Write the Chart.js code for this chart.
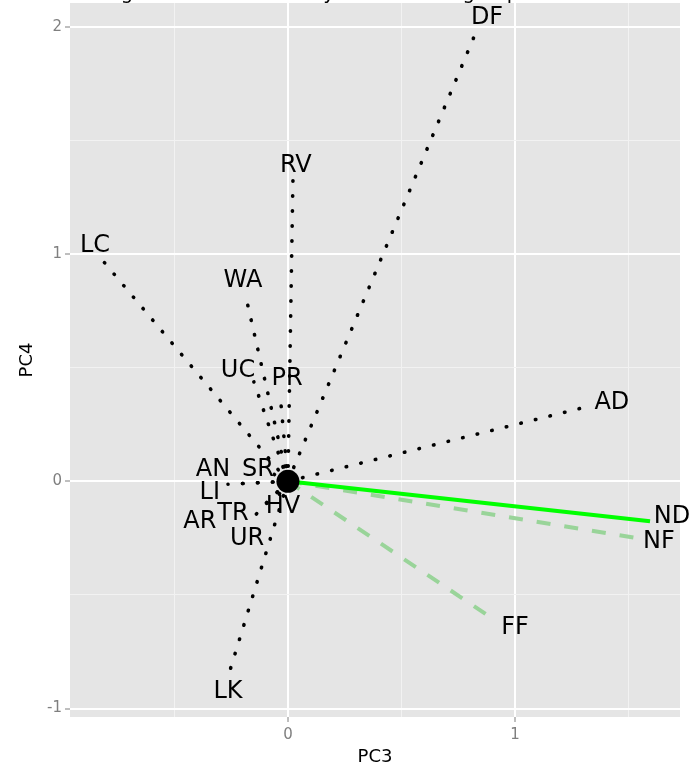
<!DOCTYPE html>
<html>
<head>
<meta charset="utf-8">
<script src="https://cdn.jsdelivr.net/npm/chart.js@4.4.1/dist/chart.umd.min.js"></script>
<style>
  html, body { margin: 0; padding: 0; background: #fff; }
  #wrap { position: relative; width: 694px; height: 769px; }
</style>
</head>
<body>
<div id="wrap"><canvas id="biplot"></canvas></div>
<script>
// --- loadings (PC3 / PC4) ---
// dotted black vectors
const blackNames  = ['DF', 'RV', 'LC', 'WA', 'UC', 'PR', 'AD', 'SR', 'AN', 'LI', 'AR', 'TR', 'HV', 'UR', 'LK'];
const blackX      = [0.83, 0.022, -0.815, -0.185, -0.15, -0.035, 1.33, -0.06, -0.2, -0.264, -0.13, -0.141, -0.03, -0.06, -0.264];
const blackY      = [1.98, 1.323, 0.970, 0.81, 0.437, 0.388, 0.331, 0.03, -0.01, -0.013, -0.13, -0.146, -0.04, -0.09, -0.86];
const blackLabelX = [0.877, 0.035, -0.85, -0.198, -0.22, -0.004, 1.427, -0.132, -0.33, -0.344, -0.388, -0.242, -0.022, -0.18, -0.264];
const blackLabelY = [2.038, 1.39, 1.037, 0.882, 0.485, 0.45, 0.344, 0.049, 0.049, -0.049, -0.176, -0.141, -0.11, -0.251, -0.926];
// solid green vector
const solidNames  = ['ND'];
const solidX      = [1.595];
const solidY      = [-0.176];
const solidLabelX = [1.692];
const solidLabelY = [-0.154];
// dashed light green vectors
const dashNames   = ['NF', 'FF'];
const dashX       = [1.542, 0.91];
const dashY       = [-0.251, -0.61];
const dashLabelX  = [1.634, 1.0];
const dashLabelY  = [-0.265, -0.644];

// axes
const xRange = [-0.96, 1.727];
const yRange = [-1.037, 2.104];
const xGrid  = [-0.5, 0, 0.5, 1, 1.5];
const yGrid  = [-1, -0.5, 0, 0.5, 1, 1.5, 2];
const xTickLabels = ['0', '1'];
const yTickLabels = ['-1', '0', '1', '2'];
const titleText = 'Loadings on PC3 and PC4 by behavioural group';

const FONT = '"DejaVu Sans", Verdana, sans-serif';
const isMajor = v => Number.isInteger(v);

function segments(xs, ys, style) {
  return xs.map((x, i) => Object.assign({
    type: 'line',
    data: [{ x: 0, y: 0 }, { x, y: ys[i] }],
    pointRadius: 0,
    fill: false,
    tension: 0,
  }, style));
}

const datasets = [
  // origin point on top
  { type: 'scatter', data: [{ x: 0, y: 0 }], pointRadius: 11.5, pointBackgroundColor: '#000', pointBorderWidth: 0 },
  ...segments(solidX, solidY, { borderColor: '#00ff00', borderWidth: 4 }),
  ...segments(dashX, dashY, { borderColor: '#99d499', borderWidth: 4, borderDash: [14, 14] }),
  ...segments(blackX, blackY, { borderColor: '#000', borderWidth: 3.6, borderDash: [0.5, 14.5], borderCapStyle: 'round' }),
];

// grey panel
const panelBg = {
  id: 'panelBg',
  beforeDraw(chart) {
    const { ctx, chartArea: a } = chart;
    ctx.save();
    ctx.fillStyle = '#e5e5e5';
    ctx.fillRect(a.left, a.top, a.right - a.left, a.bottom - a.top);
    ctx.restore();
  },
};

// text labels at the vector tips + clipped title
const labels = {
  id: 'labels',
  afterDatasetsDraw(chart) {
    const { ctx, scales: { x, y } } = chart;
    ctx.save();
    ctx.fillStyle = '#000';
    ctx.font = '24px ' + FONT;
    ctx.textAlign = 'center';
    ctx.textBaseline = 'middle';
    const put = (names, lx, ly) => names.forEach((n, i) =>
      ctx.fillText(n, x.getPixelForValue(lx[i]), y.getPixelForValue(ly[i])));
    put(blackNames, blackLabelX, blackLabelY);
    put(solidNames, solidLabelX, solidLabelY);
    put(dashNames, dashLabelX, dashLabelY);

    // title sits above the canvas, only descenders show
    ctx.font = '19.5px ' + FONT;
    ctx.textAlign = 'left';
    ctx.textBaseline = 'alphabetic';
    const pre = ctx.measureText('Loadin').width;
    const g = ctx.measureText('g').width;
    ctx.fillText(titleText, 127 - pre - g / 2, -1.5);
    ctx.restore();
  },
};

const gridOpts = {
  color: c => isMajor(c.tick.value) ? '#ffffff' : '#f2f2f2',
  lineWidth: c => isMajor(c.tick.value) ? 2 : 1,
  tickColor: c => isMajor(c.tick.value) ? '#7f7f7f' : 'rgba(0,0,0,0)',
  tickLength: 5,
  tickWidth: 1,
};

new Chart(document.getElementById('biplot'), {
  data: { datasets },
  plugins: [panelBg, labels],
  options: {
    responsive: true, maintainAspectRatio: false, animation: false,
    layout: { autoPadding: false, padding: { left: 0, right: 14, top: 3, bottom: 0 } },
    plugins: { legend: { display: false }, tooltip: { enabled: false }, title: { display: false } },
    scales: {
      x: {
        type: 'linear', min: xRange[0], max: xRange[1],
        afterFit: s => { s.height = 52; s.paddingLeft = 0; s.paddingRight = 0; },
        afterBuildTicks: s => { s.ticks = xGrid.map(v => ({ value: v })); },
        border: { display: false },
        grid: gridOpts,
        ticks: {
          padding: 4, color: '#7f7f7f', font: { family: FONT, size: 15 },
          maxRotation: 0, autoSkip: false,
          callback: v => isMajor(v) ? xTickLabels[xTickLabels.indexOf(String(v))] : '',
        },
        title: { display: true, text: 'PC3', color: '#000', font: { family: FONT, size: 18 }, padding: { top: 0, bottom: 1 } },
      },
      y: {
        type: 'linear', min: yRange[0], max: yRange[1],
        afterFit: s => { s.width = 70; s.paddingTop = 0; s.paddingBottom = 0; },
        afterBuildTicks: s => { s.ticks = yGrid.map(v => ({ value: v })); },
        border: { display: false },
        grid: gridOpts,
        ticks: {
          padding: 3, color: '#7f7f7f', font: { family: FONT, size: 15 },
          autoSkip: false,
          callback: v => isMajor(v) ? yTickLabels[yTickLabels.indexOf(String(v))] : '',
        },
        title: { display: true, text: 'PC4', color: '#000', font: { family: FONT, size: 18 }, padding: { top: 17, bottom: 0 } },
      },
    },
  },
});
</script>
</body>
</html>
